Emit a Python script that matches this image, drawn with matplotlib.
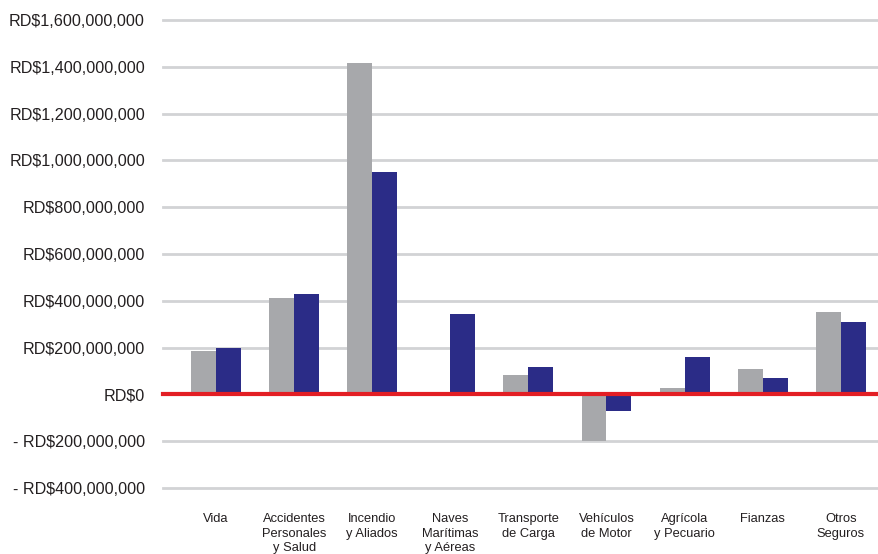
import matplotlib
matplotlib.use("Agg")
import matplotlib.pyplot as plt
import numpy as np

categories = ["Vida", "Accidentes\nPersonales\ny Salud", "Incendio\ny Aliados",
              "Naves\nMarítimas\ny Aéreas", "Transporte\nde Carga", "Vehículos\nde Motor",
              "Agrícola\ny Pecuario", "Fianzas", "Otros\nSeguros"]
serie_gris = [184e6, 411e6, 1416e6, 0, 81e6, -201e6, 26e6, 107e6, 351e6]
serie_azul = [197e6, 428e6, 950e6, 342e6, 115e6, -73e6, 158e6, 68e6, 308e6]
ytick_values = [-400e6, -200e6, 0, 200e6, 400e6, 600e6, 800e6, 1000e6, 1200e6, 1400e6, 1600e6]
ytick_labels = ["- RD$400,000,000", "- RD$200,000,000", "RD$0", "RD$200,000,000",
                "RD$400,000,000", "RD$600,000,000", "RD$800,000,000", "RD$1,000,000,000",
                "RD$1,200,000,000", "RD$1,400,000,000", "RD$1,600,000,000"]

plt.rcParams['font.family'] = ['Liberation Sans', 'DejaVu Sans']

fig = plt.figure(figsize=(8.79, 5.54), dpi=100)
ax = fig.add_axes([163/879, 1-488/554, 1-163/879, (488-20)/554])

x = np.arange(len(categories))
w = 0.32
ax.bar(x - w/2, serie_gris, w, color="#a7a8ab", zorder=3)
ax.bar(x + w/2, serie_azul, w, color="#2b2c87", zorder=3)

ax.set_xlim(-0.68, 8.49)
ax.set_ylim(-400e6, 1600e6)
for v in ytick_values:
    if v != 0:
        ax.axhline(v, color="#d2d3d5", lw=2, zorder=1, clip_on=False)
ax.axhline(0, color="#e31e24", lw=3, zorder=4, clip_on=False)

ax.set_yticks(ytick_values)
ax.set_yticklabels(ytick_labels, fontsize=11.6, color="#231f20")
ax.tick_params(axis='y', length=0, pad=13)
ax.set_xticks(x)
ax.set_xticklabels(categories, fontsize=9.3, color="#231f20", linespacing=1.28, va='top')
ax.tick_params(axis='x', length=0, pad=18)
for s in ax.spines.values():
    s.set_visible(False)

fig.savefig("out.png", dpi=100)
